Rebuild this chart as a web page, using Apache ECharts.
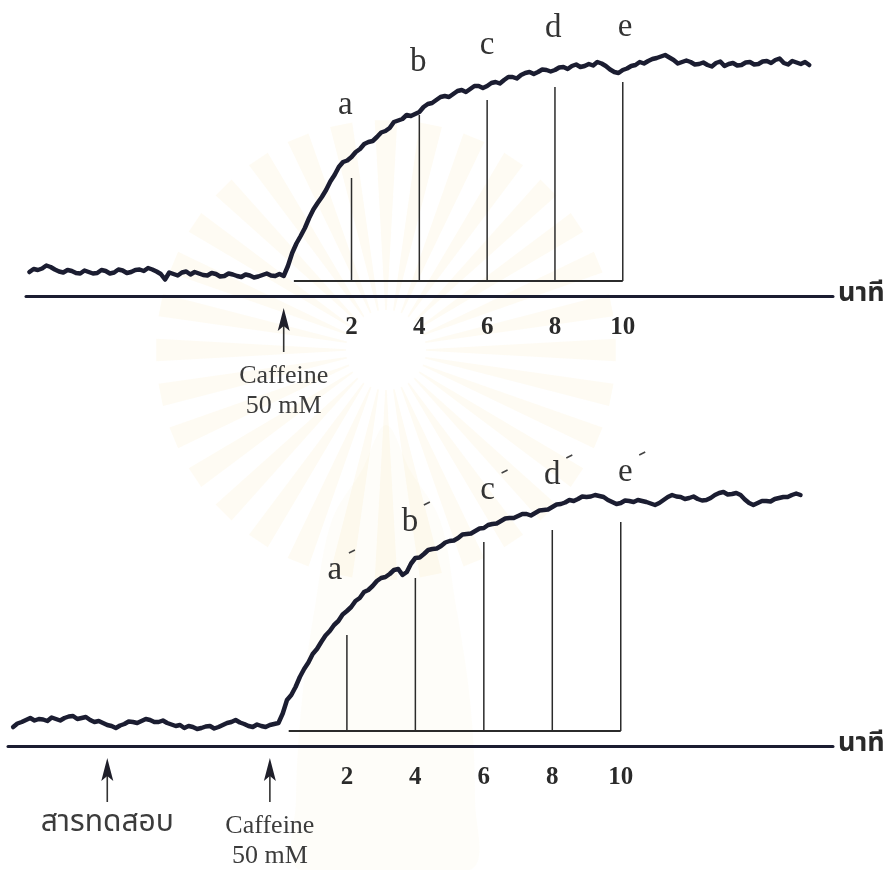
<!DOCTYPE html>
<html>
<head>
<meta charset="utf-8">
<script src="https://cdn.jsdelivr.net/npm/echarts@6/dist/echarts.min.js"></script>
<style>
  html, body { margin: 0; padding: 0; background: #ffffff; }
  #chart { width: 892px; height: 870px; }
</style>
</head>
<body>
<div id="chart"></div>
<script>
// Time is in minutes, counted from the caffeine addition. Traces are sampled every eighth of a minute.
const sampleStep = 0.125;

// Upper recording: caffeine 50 mM alone
const controlStart = -7.5;
const controlSignal = [
  9.6, 10.8, 10.4, 11.0, 12.2, 11.6, 10.6, 9.8, 9.4, 10.4, 10.0, 9.2, 9.0, 10.2, 9.6, 9.0,
  9.2, 10.4, 10.0, 9.0, 9.4, 10.6, 10.2, 9.2, 9.6, 10.4, 10.6, 10.0, 11.2, 10.6, 9.8, 8.8,
  6.6, 9.4, 8.8, 8.2, 9.4, 9.8, 8.6, 9.6, 9.0, 8.4, 8.2, 9.2, 8.8, 7.8, 8.0, 9.0,
  8.6, 8.0, 7.6, 8.6, 8.2, 7.4, 7.8, 8.4, 9.0, 8.2, 8.0, 8.8, 8.0,
  12.0, 17.2, 21.0, 24.0, 27.2, 31.2, 34.6, 37.2, 39.6, 42.4, 45.8, 48.4, 51.6, 53.6, 54.2, 55.6,
  57.6, 58.8, 60.8, 61.6, 62.0, 63.6, 65.4, 66.0, 67.2, 69.6, 70.2, 70.8, 72.4, 72.0, 72.8, 73.6,
  75.6, 76.8, 77.2, 78.4, 79.6, 80.0, 79.6, 80.8, 82.0, 82.4, 81.6, 82.8, 84.0, 84.0, 83.2, 84.0,
  85.2, 85.6, 85.0, 86.4, 87.6, 87.6, 87.0, 88.4, 89.2, 89.6, 88.8, 89.6, 90.6, 90.4, 89.8, 90.4,
  91.4, 91.6, 90.8, 92.0, 92.6, 91.6, 92.0, 92.8, 92.2, 93.6, 93.0, 92.0, 90.6, 89.6, 89.2, 90.4,
  91.0, 92.0, 92.4, 93.6, 93.0, 94.0, 94.8, 95.2, 95.8, 96.4, 95.4, 94.4, 93.0, 93.6, 94.2, 93.6,
  92.6, 92.8, 93.4, 92.4, 91.8, 93.2, 93.8, 92.0, 92.8, 93.2, 92.2, 92.4, 93.4, 93.6, 92.6, 92.8,
  93.8, 94.0, 93.2, 94.4, 95.0, 93.2, 92.6, 94.0, 93.4, 92.8, 93.6, 92.4
];

// Lower recording: test substance first, then caffeine 50 mM
const testStart = -7.75;
const testSignal = [
  7.6, 9.0, 9.6, 10.4, 11.2, 10.2, 10.8, 10.6, 10.0, 11.4, 10.8, 10.2, 11.2, 11.8, 12.0, 10.8,
  11.2, 11.6, 10.4, 9.6, 10.0, 9.2, 8.4, 8.0, 7.2, 8.2, 8.8, 9.8, 9.6, 9.2, 10.0, 10.8,
  10.4, 9.6, 9.6, 10.2, 9.2, 8.6, 8.0, 8.4, 7.2, 8.0, 7.6, 6.8, 7.2, 7.8, 8.0, 7.0,
  7.6, 8.4, 9.2, 9.6, 10.4, 9.4, 8.8, 8.0, 7.6, 8.6, 8.0, 7.6, 8.4, 8.8, 9.2,
  13.0, 18.4, 20.4, 23.6, 27.6, 30.8, 33.4, 36.8, 38.8, 41.6, 44.2, 46.0, 48.4, 50.0, 52.6, 54.0,
  55.6, 58.0, 59.2, 61.6, 62.4, 64.0, 66.0, 67.2, 67.6, 68.8, 70.4, 70.8, 68.4, 69.6, 73.0, 75.2,
  75.4, 76.8, 78.4, 78.8, 79.0, 80.0, 81.4, 82.0, 82.2, 83.2, 84.6, 84.8, 85.0, 86.0, 87.0, 87.2,
  88.4, 88.8, 89.0, 90.0, 91.0, 91.2, 91.2, 92.0, 92.8, 92.8, 92.2, 93.2, 94.2, 94.4, 94.6, 95.6,
  96.6, 96.8, 97.4, 98.4, 98.0, 98.8, 99.8, 99.6, 99.8, 100.4, 100.0, 99.6, 98.4, 97.6, 96.8, 97.2,
  98.2, 98.0, 97.6, 98.4, 98.0, 97.6, 97.0, 96.4, 97.2, 98.4, 99.6, 100.4, 99.8, 99.6, 98.8, 99.2,
  99.8, 98.8, 98.2, 98.4, 99.2, 100.4, 101.2, 101.6, 100.6, 100.8, 101.2, 100.4, 98.6, 97.2, 96.4, 97.2,
  98.0, 98.0, 97.8, 98.8, 99.2, 99.6, 99.6, 100.4, 101.0, 100.4
];

// Read-off points: time and the height of each measuring line above the reference level
const readTimes = [2, 4, 6, 8, 10];
const controlReadLevels = [47.2, 72.4, 78.4, 83.6, 85.6];
const testReadLevels = [44.4, 67.2, 81.6, 86.4, 89.6];
const readBaseLevel = 6;
const readSpan = [0.3, 10];
const readTags = ['a', 'b', 'c', 'd', 'e'];

// Time axis
const tickLabels = [2, 4, 6, 8, 10];
const timeUnit = 'นาที';

// Additions marked under each time axis
const controlEventTimes = [0];
const controlEventLabels = ['Caffeine\n50 mM'];
const testEventTimes = [-5, -0.25];
const testEventLabels = ['สารทดสอบ', 'Caffeine\n50 mM'];

// ---------------------------------------------------------------------------

const SERIF = '"Liberation Serif", "DejaVu Serif", serif';
const THAI = '"Noto Sans Thai", "Noto Serif Thai", "Garuda", "Loma", "Norasi", "Tlwg Typo", "Kinnari", sans-serif';
const INK = '#1b1d31';

function toPoints(start, values) {
  return values.map((v, i) => [start + i * sampleStep, v]);
}

function xAxisFor(gridIndex, min, max) {
  return {
    gridIndex, type: 'value', min, max,
    axisLine: { show: true, onZero: false, lineStyle: { color: INK, width: 3 } },
    axisTick: { show: false },
    splitLine: { show: false },
    axisLabel: {
      customValues: tickLabels, margin: 19,
      fontFamily: SERIF, fontWeight: 'bold', fontSize: 25, color: '#2a2a2a'
    },
    name: timeUnit, nameLocation: 'end', nameGap: 5,
    nameTextStyle: { fontFamily: THAI, fontWeight: 'bold', fontSize: 27, color: '#2a2a2a',
                     verticalAlign: 'middle', padding: [12, 0, 0, 0] }
  };
}

function yAxisFor(gridIndex) {
  return { gridIndex, type: 'value', min: 0, max: 110, show: false };
}

function traceSeries(idx, start, values) {
  return {
    type: 'line', xAxisIndex: idx, yAxisIndex: idx, data: toPoints(start, values),
    showSymbol: false, symbol: 'none', silent: true, clip: false, z: 3,
    lineStyle: { color: INK, width: 4.5, join: 'round', cap: 'round' }
  };
}

function baseSeries(idx) {
  return {
    type: 'line', xAxisIndex: idx, yAxisIndex: idx, silent: true, symbol: 'none',
    data: readSpan.map(t => [t, readBaseLevel]),
    lineStyle: { color: '#2b2b2b', width: 1.8 }
  };
}

function readLineSeries(idx, levels) {
  return {
    type: 'custom', xAxisIndex: idx, yAxisIndex: idx, silent: true, clip: false,
    data: readTimes.map((t, i) => [t, levels[i]]),
    renderItem(params, api) {
      const top = api.coord([api.value(0), api.value(1)]);
      const bot = api.coord([api.value(0), readBaseLevel]);
      return { type: 'line', shape: { x1: top[0], y1: top[1], x2: bot[0], y2: bot[1] },
               style: { stroke: '#2b2b2b', lineWidth: 1.5 } };
    }
  };
}

function tagSeries(idx, anchors, primed) {
  return {
    type: 'custom', xAxisIndex: idx, yAxisIndex: idx, silent: true, clip: false,
    data: anchors.map((a, i) => [a[0], a[1], i]),
    renderItem(params, api) {
      const p = api.coord([api.value(0), api.value(1)]);
      const kids = [{
        type: 'text',
        style: { text: readTags[api.value(2)], x: p[0], y: p[1], align: 'center', verticalAlign: 'middle',
                 font: '33px ' + SERIF, fill: '#333' }
      }];
      if (primed) {
        kids.push({ type: 'line', shape: { x1: p[0] + 14, y1: p[1] - 17, x2: p[0] + 20, y2: p[1] - 20 },
                    style: { stroke: '#444', lineWidth: 1.6 } });
      }
      return { type: 'group', children: kids };
    }
  };
}

function eventSeries(idx, times, labels) {
  return {
    type: 'custom', xAxisIndex: idx, yAxisIndex: idx, silent: true, clip: false,
    data: times.map((t, i) => [t, 0, i]),
    renderItem(params, api) {
      const p = api.coord([api.value(0), 0]);
      const x = p[0], y0 = p[1];
      const label = labels[api.value(2)];
      const thai = /[\u0E00-\u0E7F]/.test(label);
      return {
        type: 'group',
        children: [
          { type: 'line', shape: { x1: x, y1: y0 + 26, x2: x, y2: y0 + 56 },
            style: { stroke: '#333', lineWidth: 1.6 } },
          { type: 'polygon', shape: { points: [[x, y0 + 12], [x + 6, y0 + 35], [x, y0 + 30], [x - 6, y0 + 35]] },
            style: { fill: '#1f1f2a' } },
          { type: 'text',
            style: { text: label, x, y: y0 + (thai ? 64 : 65), align: 'center', verticalAlign: 'top',
                     font: (thai ? '30px ' + THAI : '26px ' + SERIF), lineHeight: 30, fill: '#3c3c3c' } }
        ]
      };
    }
  };
}

// Faint emblem printed behind the figure: a soft ray burst over a tall crown outline
function emblem() {
  const cx = 386, cy = 350, r0 = 40, r1 = 230, rays = 32;
  const parts = [];
  for (let k = 0; k < rays; k++) {
    const a = (k / rays) * Math.PI * 2;
    const w = Math.PI / rays * 0.5;
    parts.push({
      type: 'polygon', silent: true, z: -10,
      shape: { points: [
        [cx + r0 * Math.cos(a - w * 0.4), cy + r0 * Math.sin(a - w * 0.4)],
        [cx + r1 * Math.cos(a - w), cy + r1 * Math.sin(a - w)],
        [cx + r1 * Math.cos(a + w), cy + r1 * Math.sin(a + w)],
        [cx + r0 * Math.cos(a + w * 0.4), cy + r0 * Math.sin(a + w * 0.4)]
      ] },
      style: { fill: 'rgba(245, 226, 160, 0.12)' }
    });
  }
  parts.push({
    type: 'polygon', silent: true, z: -9,
    shape: { smooth: 0.35, points: [
      [386, 425], [410, 470], [440, 520], [455, 600], [470, 700], [475, 800], [470, 870],
      [300, 870], [296, 800], [302, 700], [316, 600], [332, 520], [362, 470]
    ] },
    style: { fill: 'rgba(240, 222, 170, 0.07)' }
  });
  return parts;
}

const chart = echarts.init(document.getElementById('chart'), null, { renderer: 'canvas' });

chart.setOption({
  animation: false,
  backgroundColor: '#ffffff',
  graphic: { elements: emblem() },
  grid: [
    { left: 26, right: 59, top: 21, height: 275, outerBoundsMode: 'none' },
    { left: 8, right: 59, top: 471, height: 275, outerBoundsMode: 'none' }
  ],
  xAxis: [xAxisFor(0, -7.6, 16.2), xAxisFor(1, -7.9, 16.2)],
  yAxis: [yAxisFor(0), yAxisFor(1)],
  series: [
    baseSeries(0),
    readLineSeries(0, controlReadLevels),
    traceSeries(0, controlStart, controlSignal),
    tagSeries(0, [[1.82, 76.4], [3.97, 93.6], [6.0, 100.4], [7.95, 107.2], [10.07, 107.6]], false),
    eventSeries(0, controlEventTimes, controlEventLabels),

    baseSeries(1),
    readLineSeries(1, testReadLevels),
    traceSeries(1, testStart, testSignal),
    tagSeries(1, [[1.65, 70.4], [3.84, 89.6], [6.11, 102.4], [8.0, 108.4], [10.13, 109.6]], true),
    eventSeries(1, testEventTimes, testEventLabels)
  ]
});
</script>
</body>
</html>
